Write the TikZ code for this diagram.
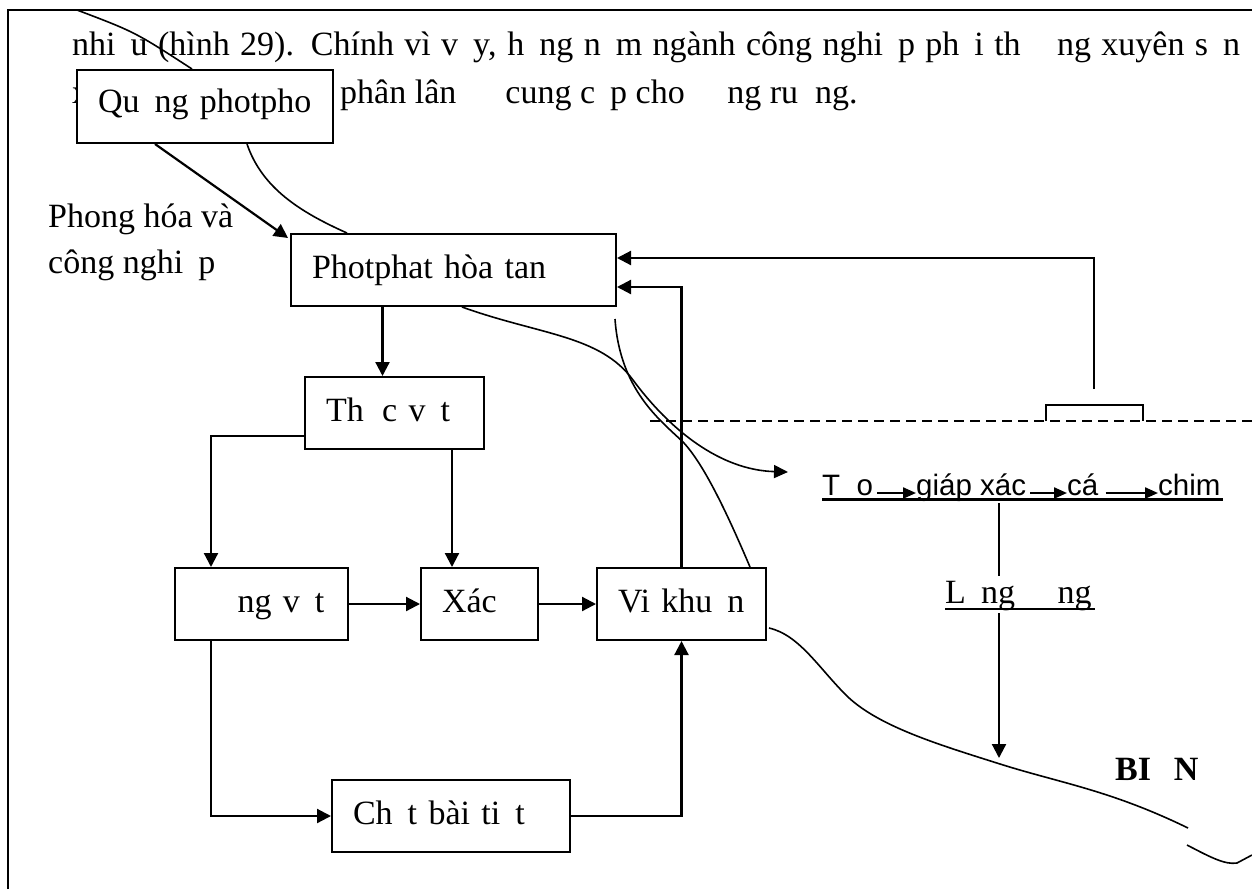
\documentclass[tikz,border=0pt]{standalone}
\usepackage{fontspec}
\setmainfont{Liberation Serif}
\newfontfamily\chainfont{Liberation Sans}
\usetikzlibrary{arrows.meta, calc, positioning}
\newcommand{\gap}[1]{\phantom{#1}}
\newcommand{\lblsize}{\fontsize{34}{46}\selectfont}
\tikzset{
  box/.style={rectangle, draw=black, line width=2pt, fill=white, anchor=north west, inner xsep=21pt, inner ysep=0pt, minimum height=72pt, text height=24pt, text depth=8pt, align=left, font=\lblsize},
  arrow/.style={line width=2.2pt, -{Triangle[length=14pt, width=14pt]}},
  link/.style={line width=2.2pt},
  curve/.style={line width=1.6pt},
  plain/.style={anchor=base west, inner sep=0pt, font=\lblsize},
  chain/.style={anchor=base west, inner sep=0pt, font=\chainfont\fontsize{29.5}{34}\selectfont},
  chainarrow/.style={line width=2.2pt, -{Triangle[length=13pt, width=11pt]}}
}

\begin{document}
\begin{tikzpicture}[x=1pt, y=-1pt]
  \useasboundingbox (0,0) rectangle (1252,889);
  % khung trang
  \draw[link] (8,889) -- (8,10) -- (1252,10);

  % dong chu phia tren
  \node (line1) [plain] at (72,55) {\hbox to 1168pt{nhi\gap{ề}u (hình 29). Chính vì v\gap{ậ}y, h\gap{ằ}ng n\gap{ă}m ngành công nghi\gap{ệ}p ph\gap{ả}i th\gap{ườ}ng xuyên s\gap{ả}n}};
  \node (line2a) [plain] at (72,103) {x};
  \node (line2b) [plain] at (340,103) {phân lân \gap{để} cung c\gap{ấ}p cho \gap{đồ}ng ru\gap{ộ}ng.};

  % cac hop
  \node (quang) [box, text width=214pt, minimum height=73pt, text depth=12pt] at (76,69) {Qu\gap{ặ}ng photpho};
  \node (photphat) [box, text width=283pt] at (290,233) {Photphat hòa tan};
  \node (thucvat) [box, text width=137pt] at (304,376) {Th\gap{ự}c v\gap{ậ}t};
  \node (dongvat) [box, text width=131pt] at (174,567) {\gap{Độ}ng v\gap{ậ}t};
  \node (xac) [box, text width=75pt] at (420,567) {Xác};
  \node (vikhuan) [box, text width=127pt] at (596,567) {Vi khu\gap{ẩ}n};
  \node (chatbai) [box, text width=196pt] at (331,779) {Ch\gap{ấ}t bài ti\gap{ế}t};
  \node (phonghoa) [plain, align=left] at (48,273) {Phong hóa và\\công nghi\gap{ệ}p};

  % chuoi thuc an
  \node (tao) [chain] at (822,495) {T\gap{ả}o};
  \node (giap) [chain] at (916,495) {giáp xác};
  \node (ca) [chain] at (1067,495) {cá};
  \node (chim) [chain] at (1158,495) {chim};
  \node (lang) [plain] at (945,603) {L\gap{ắ}ng \gap{đọ}ng};
  \node (bien) [plain, font=\lblsize\bfseries] at (1115,780) {BI\gap{Ể}N};

  \coordinate (tv in) at ($(thucvat.north)+(-12,0)$);
  \coordinate (xac in) at ($(xac.north west)+(32,0)$);
  \coordinate (boat) at (1094,389);
  \coordinate (drop) at (999,503);
  \coordinate (seafloor) at (999,758);
  \coordinate (sealife) at (788,472);

  \draw[arrow] ($(quang.south west)+(79,0)$) -- ($(photphat.north west)+(-2,5)$);
  \draw[arrow] (tv in |- photphat.south) -- (tv in);
  \draw[arrow] ($(thucvat.west)+(0,23)$) -| ($(dongvat.north west)+(37,0)$);
  \draw[arrow] (xac in |- thucvat.south) -- (xac in);
  \draw[arrow] (dongvat) -- (xac);
  \draw[arrow] (xac) -- (vikhuan);
  \draw[arrow] ($(dongvat.south west)+(37,0)$) |- (chatbai.west);
  \draw[arrow] (chatbai.east) -| (vikhuan.south);
  \draw[arrow] (vikhuan.north) |- ($(photphat.east)+(0,17)$);
  \draw[arrow] (boat) |- ($(photphat.east)+(0,-12)$);

  % mat nuoc va thuyen
  \draw[link, dash pattern=on 10pt off 6pt] (650,421) -- (1252,421);
  \draw[link] (1046,421) -- (1046,405) -- (1143,405) -- (1143,421);

  % chuoi thuc an
  \draw[chainarrow] ($(tao.base east)+(4,-2)$) -- ($(giap.base west)+(0,-2)$);
  \draw[chainarrow] ($(giap.base east)+(4,-2)$) -- ($(ca.base west)+(0,-2)$);
  \draw[chainarrow] ($(ca.base east)+(7,-2)$) -- ($(chim.base west)+(0,-2)$);
  \draw[line width=3pt] ($(tao.base west)+(0,4)$) -- ($(chim.base east)+(2,4)$);
  \draw[link] ($(giap.base -| drop)+(0,8)$) -- ($(lang.base -| drop)+(0,-27)$);
  \draw[line width=2.2pt] ($(lang.base west)+(0,6)$) -- ($(lang.base east)+(3,6)$);
  \draw[arrow] ($(lang.base -| drop)+(0,10)$) -- (seafloor);

  % cac duong cong
  \draw[curve] (77,10) .. controls (135,32) .. ($(quang.north west)+(116,0)$);
  \draw[curve] ($(quang.south west)+(171,0)$) .. controls (262,188) and (300,212) .. ($(photphat.north west)+(57,0)$);
  \draw[curve, -{Triangle[length=14pt, width=13pt]}] ($(photphat.south west)+(172,0)$) .. controls (540,335) and (600,335) .. (633,380) .. controls (670,430) and (720,470) .. (sealife);
  \draw[curve] (615,319) .. controls (620,390) and (660,420) .. (683,442) .. controls (705,465) and (730,520) .. ($(vikhuan.north east)+(-17,0)$);
  \draw[curve] ($(vikhuan.east)+(2,24)$) .. controls (800,635) and (820,670) .. (848,697) .. controls (880,727) and (940,745) .. (1000,764) .. controls (1060,783) and (1110,790) .. (1188,828);
  \draw[curve] (1187,845) .. controls (1210,857) and (1225,865) .. (1237,863) -- (1252,855);
\end{tikzpicture}
\end{document}
